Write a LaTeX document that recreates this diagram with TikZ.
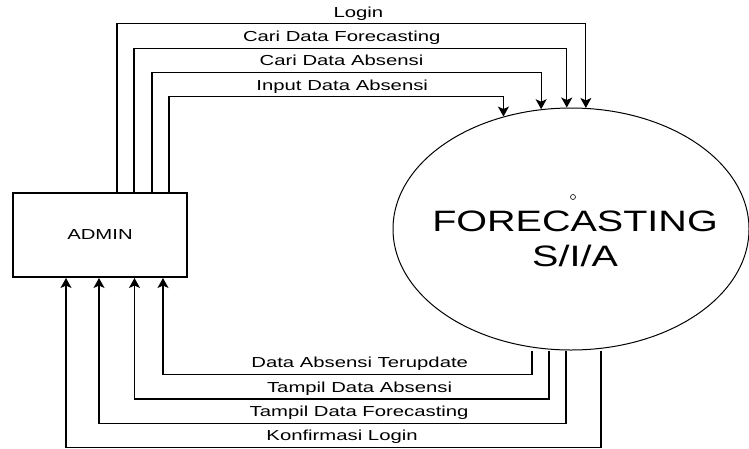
\documentclass[tikz,border=0pt]{standalone}
\usepackage{graphicx}
\usepackage{fontspec}
\setmainfont{Liberation Sans}
\usetikzlibrary{arrows.meta,shapes.geometric}

\newcommand{\widetext}[1]{\scalebox{1.4}[1]{#1}}
\newcommand{\widebig}[1]{\scalebox{1.34}[1]{#1}}

\tikzset{
	flow/.style={line width=1.2pt, -{Stealth[length=10pt, width=11pt, inset=2.5pt]}},
	lbl/.style={anchor=base, yshift=6.5pt, inner sep=0pt, font=\fontsize{14.5}{17}\selectfont},
}

\begin{document}
\begin{tikzpicture}[x=1pt, y=-1pt]
	\useasboundingbox (0,0) rectangle (749,448);
	\node [draw, line width=2pt, minimum width=174pt, minimum height=84pt, font=\fontsize{14.5}{17}\selectfont] (admin) at (100,235) {\widetext{ADMIN}};
	\node [draw, ellipse, line width=1pt, minimum width=356pt, minimum height=242pt, inner sep=0pt] (fc) at (571,229) {};
	\node [draw, circle, line width=0.6pt, minimum size=5pt, inner sep=0pt] (fcdot) at ([shift={(2,-32)}]fc.center) {};
	\node [anchor=base, inner sep=0pt, font=\fontsize{29.5}{36}\selectfont] (fcname) at ([shift={(4,2)}]fc.center) {\widebig{FORECASTING}};
	\node [anchor=base, inner sep=0pt, font=\fontsize{29.5}{36}\selectfont] (fccode) at ([shift={(4,37.7)}]fc.center) {\widebig{S/I/A}};
	\draw [flow] (117,0 |- admin.north) -- (117,23.5) -- node [lbl, pos=0.515] {\widetext{Login}} (fc.83.4 |- 0,23.5) -- (fc.83.4);
	\draw [flow] (134,0 |- admin.north) -- (134,48.3) -- node [lbl, pos=0.48] {\widetext{Cari Data Forecasting}} (fc.92.4 |- 0,48.3) -- (fc.92.4);
	\draw [flow] (152,0 |- admin.north) -- (152,72.3) -- node [lbl, pos=0.487] {\widetext{Cari Data Absensi}} (fc.104.1 |- 0,72.3) -- (fc.104.1);
	\draw [flow] (169,0 |- admin.north) -- (169,96.7) -- node [lbl, pos=0.518] {\widetext{Input Data Absensi}} (fc.121.6 |- 0,96.7) -- (fc.121.6);
	\draw [flow] (532,0 |- fc.south) -- (532,374.3) -- node [lbl, pos=0.467] {\widetext{Data Absensi Terupdate}} (163,374.3) -- (163,0 |- admin.south);
	\draw [flow] (549,0 |- fc.south) -- (549,399) -- node [lbl, pos=0.457] {\widetext{Tampil Data Absensi}} (134.5,399) -- (134.5,0 |- admin.south);
	\draw [flow] (566,0 |- fc.south) -- (566,423.3) -- node [lbl, pos=0.443] {\widetext{Tampil Data Forecasting}} (99,423.3) -- (99,0 |- admin.south);
	\draw [flow] (601,0 |- fc.south) -- (601,447.3) -- node [lbl, pos=0.484] {\widetext{Konfirmasi Login}} (66,447.3) -- (66,0 |- admin.south);
\end{tikzpicture}
\end{document}
